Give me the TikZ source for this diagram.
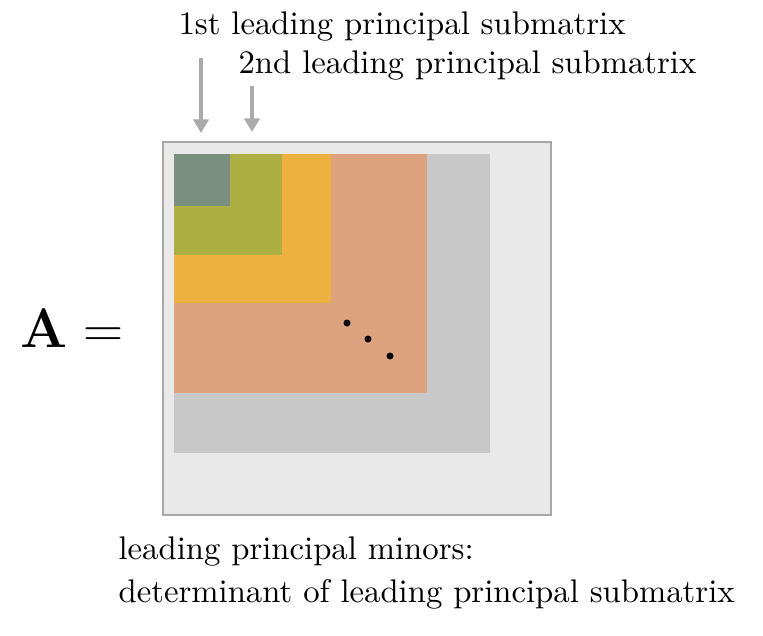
\documentclass[tikz,border=0pt]{standalone}
\usepackage{amsmath,amssymb}
\usepackage{tikz}
\usetikzlibrary{positioning,arrows.meta}

\definecolor{matbg}{RGB}{233,233,233}
\definecolor{matedge}{RGB}{170,166,166}
\definecolor{subfive}{RGB}{200,200,200}
\definecolor{subfour}{RGB}{220,163,126}
\definecolor{subthree}{RGB}{236,177,62}
\definecolor{subtwo}{RGB}{173,175,67}
\definecolor{subone}{RGB}{122,143,128}
\definecolor{arrgray}{RGB}{170,170,170}

\begin{document}
\begin{tikzpicture}[
  x=0.33pt, y=-0.33pt,
  lbl/.style={inner sep=0pt, anchor=base west, font=\fontsize{10.8}{14.4}\selectfont},
  arr/.style={-{Triangle[length=4.5pt,width=5pt]}, line width=1.3pt, draw=arrgray},
  dot/.style={fill=black}
]
\useasboundingbox (0,0) rectangle (763,635);

% Matrix and nested submatrices
\draw[fill=matbg, draw=matedge, line width=0.7pt] (163,142) rectangle (551,515);
\fill[subfive] (174,154) rectangle (490,453);
\fill[subfour] (174,154) rectangle (427,393);
\fill[subthree] (174,154) rectangle (331,303);
\fill[subtwo] (174,154) rectangle (282,255);
\fill[subone] (174,154) rectangle (230,206);

% Dots
\fill[dot] (347,323) circle (3.5);
\fill[dot] (368,339) circle (3.5);
\fill[dot] (390,356) circle (3.5);

% Labels
\node[lbl] (first) at (178,34) {1st leading principal submatrix};
\node[lbl] (second) at (238,73) {2nd leading principal submatrix};
\node[inner sep=0pt, anchor=base west, font=\LARGE, scale=1.06, transform shape] (amat) at (20,347) {$\mathbf{A} =$};
\node[lbl, align=left, anchor=north west] (minors) at (118,536)
  {leading principal minors:\\determinant of leading principal submatrix};

% Arrows
\coordinate (firsttop) at (201,58);
\coordinate (firsttip) at (201,133);
\coordinate (secondtop) at (252,86);
\coordinate (secondtip) at (252,132);
\draw[arr] (firsttop) -- (firsttip);
\draw[arr] (secondtop) -- (secondtip);
\end{tikzpicture}
\end{document}
